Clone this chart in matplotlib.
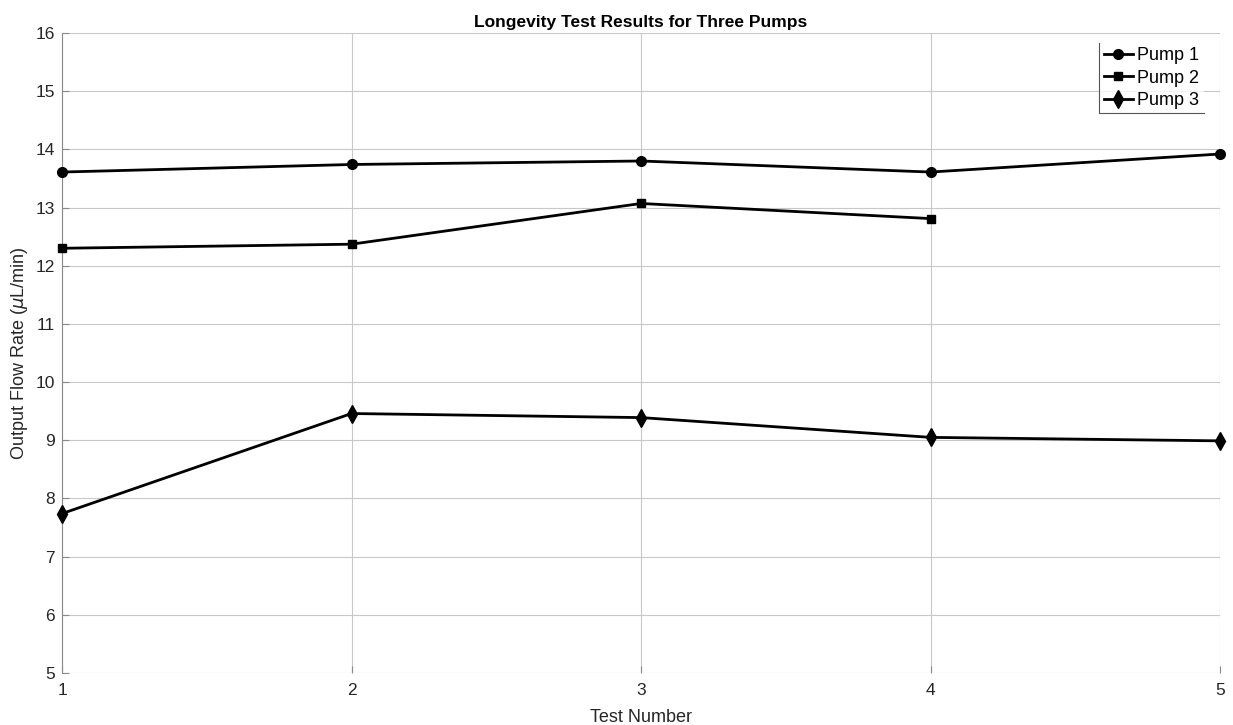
import matplotlib
matplotlib.use("Agg")
import matplotlib.pyplot as plt
from matplotlib.lines import Line2D

# test numbers and measured flow rates (uL/min)
test_number = [1, 2, 3, 4, 5]
pump1 = [13.61, 13.74, 13.80, 13.61, 13.92]
pump2 = [12.30, 12.37, 13.07, 12.81]
pump3 = [7.74, 9.46, 9.39, 9.05, 8.99]

plt.rcParams['font.family'] = ['Liberation Sans', 'DejaVu Sans']

fig = plt.figure(figsize=(12.33, 7.25), dpi=100)
ax = fig.add_axes([0.0503, 0.0717, 0.9392, 0.8828])

ax.plot(test_number, pump1, color='black', lw=2, marker='o', ms=7, label='Pump 1', clip_on=False, zorder=3)
ax.plot(test_number[:len(pump2)], pump2, color='black', lw=2, marker='s', ms=5.5, label='Pump 2', clip_on=False, zorder=3)
ax.plot(test_number, pump3, color='black', lw=2, marker='d', ms=9, label='Pump 3', clip_on=False, zorder=3)

ax.set_xlim(1, 5)
ax.set_ylim(5, 16)
ax.set_xticks(test_number)
ax.set_yticks(range(5, 17))

# MATLAB-ish look: only the left axis line, inward ticks, light grid
for side in ['top', 'right', 'bottom']:
    ax.spines[side].set_visible(False)
ax.spines['left'].set_color('#8a8a8a')
ax.spines['left'].set_linewidth(0.8)
ax.tick_params(direction='in', length=5, width=0.8, color='#8a8a8a', labelcolor='#262626', labelsize=12.5)
ax.tick_params(axis='x', pad=7)
ax.tick_params(axis='y', pad=5)
ax.grid(True, color='#c8c8c8', lw=0.8)
ax.set_axisbelow(True)

ax.set_title('Longevity Test Results for Three Pumps', fontsize=12.5, fontweight='bold', pad=4)
ax.set_xlabel('Test Number', fontsize=13, color='#262626', labelpad=8)
ax.set_ylabel('Output Flow Rate ($\\mu$L/min)', fontsize=13, color='#262626', labelpad=4)

leg = ax.legend(loc='upper right', bbox_to_anchor=(0.986, 0.985), fontsize=13, frameon=True, fancybox=False,
                handlelength=1.6, handletextpad=0.25, borderpad=0.25, labelspacing=0.3, borderaxespad=0)
leg.get_frame().set_edgecolor('white')
leg.get_frame().set_linewidth(0)

# legend box in the reference only shows its left and bottom edges
fig.canvas.draw()
bb = leg.get_window_extent().transformed(fig.transFigure.inverted())
fig.add_artist(Line2D([bb.x0, bb.x0, bb.x1], [bb.y1, bb.y0, bb.y0], transform=fig.transFigure,
                      color='#555555', lw=0.8))

fig.savefig('out.png', dpi=100)
